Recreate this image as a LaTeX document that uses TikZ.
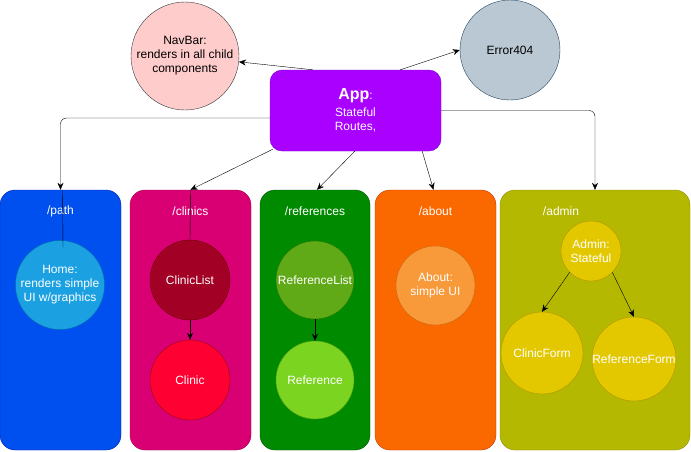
\documentclass[tikz,border=0pt]{standalone}
\usepackage{fontspec}
\setmainfont{Liberation Sans}
\usetikzlibrary{arrows.meta}

\definecolor{navfill}{HTML}{FFCCCC}
\definecolor{navline}{HTML}{36393D}
\definecolor{errfill}{HTML}{BAC8D3}
\definecolor{errline}{HTML}{23445D}
\definecolor{appfill}{HTML}{AA00FF}
\definecolor{appline}{HTML}{7700CC}
\definecolor{pathfill}{HTML}{0050EF}
\definecolor{pathline}{HTML}{001DBC}
\definecolor{clinicsfill}{HTML}{D80073}
\definecolor{clinicsline}{HTML}{A50040}
\definecolor{refsfill}{HTML}{008A00}
\definecolor{refsline}{HTML}{005700}
\definecolor{aboutfill}{HTML}{FA6800}
\definecolor{aboutline}{HTML}{C73500}
\definecolor{adminfill}{HTML}{B5B800}
\definecolor{adminline}{HTML}{8C8C00}
\definecolor{homefill}{HTML}{1BA1E2}
\definecolor{homeline}{HTML}{006EAF}
\definecolor{listfill}{HTML}{A20025}
\definecolor{listline}{HTML}{6F0000}
\definecolor{clinicfill}{HTML}{FF0033}
\definecolor{clinicline}{HTML}{99001F}
\definecolor{reflistfill}{HTML}{60A917}
\definecolor{reflistline}{HTML}{2D7600}
\definecolor{reffill}{HTML}{7BD41F}
\definecolor{refline}{HTML}{5A9C10}
\definecolor{aboutcfill}{HTML}{F8993A}
\definecolor{aboutcline}{HTML}{C76A10}
\definecolor{formfill}{HTML}{E3C800}
\definecolor{formline}{HTML}{B09500}

\begin{document}
\begin{tikzpicture}[x=1pt,y=-1pt,
  every node/.style={font=\fontsize{12}{14}\selectfont, align=center, inner sep=0pt},
  routebox/.style={rounded corners=15pt, minimum height=260pt},
  comp/.style={circle, draw, text=white},
  link/.style={-{Stealth[length=7pt,width=6pt]}}]

  \useasboundingbox (0,0) rectangle (691,451);

  \node (navbar) at (185,56) [comp, fill=navfill, draw=navline, minimum size=108pt, text=black] {NavBar:\\renders in all child\\components};

  \node (err) at (510,50) [comp, fill=errfill, draw=errline, minimum size=100pt, text=black] {Error404};

  \node (app) at (355.5,110.5) [draw=appline, fill=appfill, rounded corners=12pt, minimum width=171pt, minimum height=81pt, text=white] {{\fontsize{16}{17}\selectfont\bfseries App}:\\[3pt]Stateful\\Routes,};

  % Routes
  \node (path) at (60.5,320) [routebox, fill=pathfill, draw=pathline, minimum width=121pt] {};

  \node (clinics) at (190.5,320) [routebox, fill=clinicsfill, draw=clinicsline, minimum width=121pt] {};

  \node (references) at (315,320) [routebox, fill=refsfill, draw=refsline, minimum width=110pt] {};

  \node (about) at (435.5,320) [routebox, fill=aboutfill, draw=aboutline, minimum width=121pt] {};

  \node (admin) at (595,320) [routebox, fill=adminfill, draw=adminline, minimum width=190pt] {};

  \node (pathlbl) at (60.5,211) [text=white] {/path};

  \node (clinicslbl) at (190.5,211) [text=white] {/clinics};

  \node (referenceslbl) at (315,211) [text=white] {/references};

  \node (aboutlbl) at (435.5,211) [text=white] {/about};

  \node (adminlbl) at (561,211) [text=white] {/admin};

  % Components
  \node (home) at (60,285) [comp, fill=homefill, draw=homeline, minimum size=89pt] {Home:\\renders simple\\UI w/graphics};

  \node (cliniclist) at (190,280) [comp, fill=listfill, draw=listline, minimum size=80pt] {ClinicList};

  \node (clinic) at (190,380) [comp, fill=clinicfill, draw=clinicline, minimum size=80pt] {Clinic};

  \node (reflist) at (315,280) [comp, fill=reflistfill, draw=reflistline, minimum size=78pt] {ReferenceList};

  \node (ref) at (315,380) [comp, fill=reffill, draw=refline, minimum size=78pt] {Reference};

  \node (aboutui) at (435.5,285.5) [comp, fill=aboutcfill, draw=aboutcline, minimum size=79pt] {About:\\simple UI};

  \node (adminui) at (591,251) [comp, fill=formfill, draw=formline, minimum size=60pt] {Admin:\\Stateful};

  \node (clinicform) at (542,353) [comp, fill=formfill, draw=formline, minimum size=82pt] {ClinicForm};

  \node (refform) at (634,359) [comp, fill=formfill, draw=formline, minimum size=84pt] {ReferenceForm};

  % Arrows
  \draw[link] ([xshift=43pt]app.north west) -- (navbar);
  \draw[link] ([xshift=-41pt]app.north east) -- (err.west);
  \draw[link, rounded corners=6pt] ([yshift=-7.5pt]app.west) -| (path.north);
  \draw[link, rounded corners=6pt] (app.east) -| (admin.north);
  \draw[link] ([xshift=3pt,yshift=2pt]app.south west) -- (clinics.north);
  \draw[link] ([xshift=85pt]app.south west) -- ([xshift=2pt]references.north);
  \draw[link] ([xshift=-19pt]app.south east) -- ([xshift=-2pt]about.north);
  \draw ([xshift=2pt]path.north) -- ([xshift=3pt,yshift=-7pt]home.north);
  \draw (clinics.north) -- (cliniclist.north);
  \draw[link] (cliniclist) -- (clinic);
  \draw[link] (reflist) -- (ref);
  \draw[link] (adminui.-135) -- (clinicform.north);
  \draw[link] (adminui.-45) -- (refform.north);

\end{tikzpicture}
\end{document}
